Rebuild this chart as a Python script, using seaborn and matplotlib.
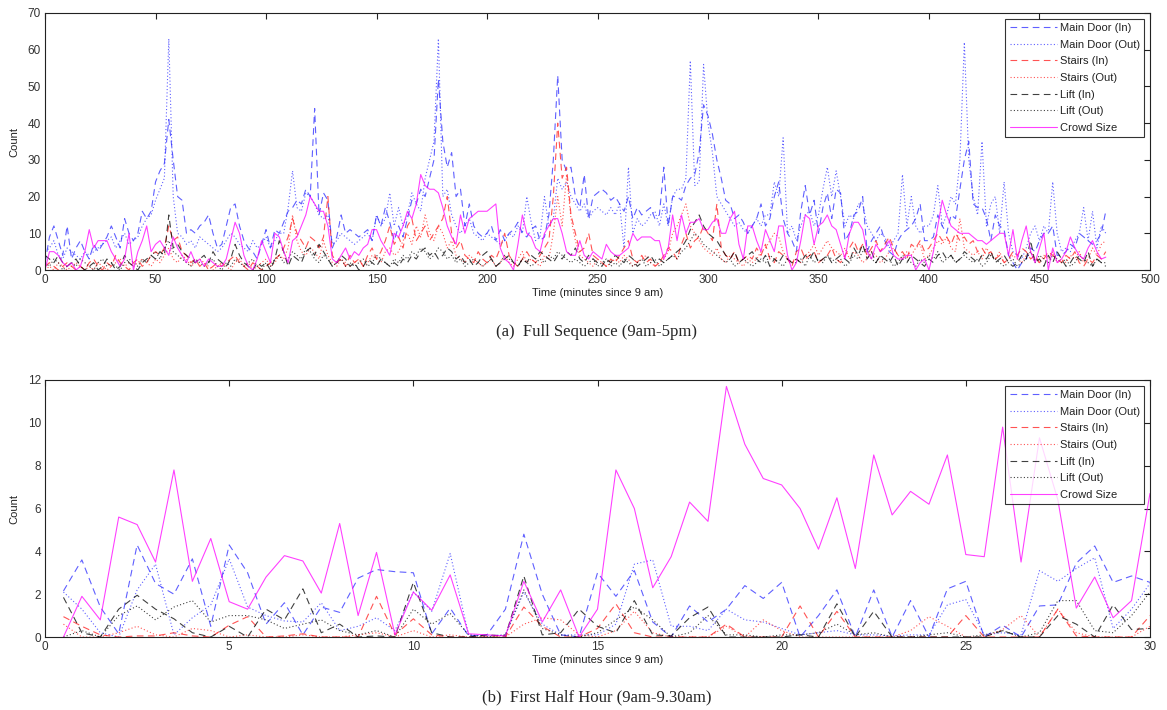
import numpy as np
import seaborn as sns
import matplotlib.pyplot as plt

# ---- full sequence, 2-minute bins (minutes since 9 am) ----
t_full = np.arange(0, 481, 2)

main_in_full = [
    2, 9, 12, 8, 4, 12, 3, 6, 8, 5,
    3, 7, 5, 7, 9, 12, 9, 6, 14, 10,
    8, 10, 16, 14, 16, 24, 27, 29, 41, 30,
    20, 19, 10, 11, 10, 12, 13, 15, 10, 6,
    7, 12, 17, 18, 12, 8, 6, 5, 3, 7,
    11, 6, 11, 10, 13, 16, 17, 19, 18, 22,
    20, 44, 15, 21, 19, 6, 9, 15, 10, 11,
    10, 9, 10, 11, 8, 15, 12, 17, 13, 8,
    12, 9, 14, 19, 18, 22, 20, 25, 30, 52,
    35, 28, 32, 20, 22, 12, 18, 12, 10, 9,
    10, 12, 8, 11, 8, 10, 11, 13, 10, 9,
    11, 12, 8, 9, 15, 30, 53, 30, 27, 28,
    20, 17, 26, 14, 20, 21, 22, 21, 19, 20,
    18, 16, 20, 14, 17, 15, 16, 17, 14, 15,
    28, 12, 20, 20, 19, 23, 25, 26, 32, 45,
    42, 37, 30, 25, 19, 18, 14, 15, 13, 10,
    12, 14, 18, 12, 14, 20, 24, 14, 10, 8,
    5, 16, 23, 15, 19, 10, 17, 21, 14, 22,
    21, 8, 10, 15, 16, 20, 5, 8, 10, 12,
    8, 5, 4, 8, 10, 11, 12, 14, 18, 8,
    8, 9, 15, 12, 10, 15, 14, 22, 30, 35,
    18, 17, 17, 14, 8, 15, 12, 11, 4, 2,
    0, 2, 3, 6, 5, 8, 10, 10, 12, 4,
    4, 5, 7, 6, 10, 9, 8, 7, 8, 10,
    16]

main_out_full = [
    5, 6, 8, 4, 3, 6, 5, 4, 3, 5,
    4, 5, 6, 7, 8, 9, 6, 8, 10, 7,
    8, 9, 12, 14, 15, 19, 22, 25, 63, 20,
    10, 9, 7, 8, 6, 9, 8, 7, 6, 5,
    6, 8, 10, 9, 7, 6, 5, 8, 6, 7,
    9, 6, 8, 10, 10, 17, 27, 17, 16, 21,
    20, 18, 15, 14, 15, 7, 8, 10, 9, 8,
    7, 8, 9, 10, 8, 15, 12, 14, 21, 12,
    17, 12, 15, 21, 18, 16, 25, 30, 35, 63,
    20, 22, 15, 12, 10, 12, 14, 10, 9, 8,
    10, 9, 8, 7, 8, 10, 9, 12, 10, 20,
    13, 8, 9, 20, 12, 14, 25, 22, 24, 20,
    18, 16, 18, 14, 16, 17, 16, 15, 17, 15,
    18, 6, 28, 10, 14, 12, 13, 15, 16, 12,
    18, 12, 20, 22, 22, 25, 57, 23, 24, 56,
    40, 32, 20, 18, 16, 14, 12, 13, 11, 10,
    12, 14, 12, 15, 15, 24, 20, 36, 10, 12,
    8, 12, 15, 16, 12, 15, 22, 28, 20, 27,
    20, 12, 15, 14, 18, 18, 12, 10, 8, 10,
    9, 6, 8, 10, 26, 12, 20, 12, 10, 12,
    12, 15, 23, 12, 15, 20, 18, 30, 62, 30,
    20, 15, 35, 12, 18, 20, 10, 24, 10, 5,
    4, 3, 6, 10, 12, 8, 12, 10, 24, 10,
    5, 6, 5, 8, 10, 17, 8, 16, 6, 12,
    10]

stairs_in_full = [
    1, 2, 1, 0, 1, 2, 1, 0, 1, 0,
    2, 3, 1, 0, 2, 1, 4, 2, 1, 0,
    2, 3, 1, 2, 4, 5, 4, 6, 12, 8,
    9, 5, 4, 2, 3, 1, 2, 0, 1, 2,
    1, 2, 3, 4, 2, 1, 0, 2, 1, 0,
    1, 2, 3, 4, 6, 9, 14, 10, 8, 6,
    9, 8, 6, 9, 20, 4, 2, 3, 1, 4,
    2, 3, 1, 4, 6, 3, 5, 8, 12, 7,
    9, 6, 12, 14, 8, 10, 12, 8, 10, 12,
    14, 20, 10, 6, 8, 4, 3, 2, 5, 3,
    2, 4, 3, 6, 10, 4, 2, 1, 3, 5,
    3, 2, 4, 6, 8, 20, 40, 25, 28, 15,
    10, 5, 6, 10, 4, 3, 2, 1, 3, 2,
    4, 6, 8, 3, 2, 4, 2, 3, 1, 2,
    4, 6, 5, 3, 7, 10, 6, 8, 9, 12,
    10, 8, 18, 6, 4, 3, 5, 2, 3, 4,
    3, 6, 4, 7, 3, 2, 5, 4, 3, 1,
    5, 6, 3, 4, 5, 2, 3, 4, 6, 3,
    2, 4, 6, 8, 5, 7, 4, 6, 8, 5,
    7, 9, 6, 4, 5, 3, 7, 6, 8, 5,
    6, 8, 10, 8, 9, 7, 10, 8, 9, 7,
    8, 5, 6, 4, 5, 3, 4, 2, 3, 5,
    4, 6, 5, 3, 4, 2, 3, 5, 4, 3,
    2, 4, 3, 5, 2, 1, 3, 2, 4, 3,
    5]

stairs_out_full = [
    0, 1, 0, 2, 1, 0, 1, 2, 1, 0,
    1, 0, 2, 1, 0, 1, 2, 3, 1, 2,
    1, 2, 3, 2, 1, 3, 2, 4, 6, 3,
    2, 4, 3, 1, 2, 3, 2, 1, 0, 1,
    2, 1, 0, 2, 3, 1, 2, 0, 1, 2,
    3, 1, 2, 4, 3, 6, 15, 8, 5, 4,
    6, 5, 3, 8, 4, 2, 1, 3, 2, 1,
    2, 3, 1, 2, 4, 3, 2, 5, 6, 4,
    5, 8, 10, 7, 12, 9, 15, 10, 8, 12,
    10, 6, 8, 4, 3, 2, 4, 3, 2, 1,
    2, 3, 1, 2, 4, 2, 1, 3, 5, 2,
    3, 2, 1, 4, 3, 10, 20, 12, 26, 14,
    8, 4, 3, 2, 1, 3, 2, 1, 2, 3,
    2, 4, 3, 1, 2, 3, 4, 2, 1, 2,
    3, 5, 10, 12, 15, 18, 12, 10, 8, 6,
    5, 4, 6, 3, 2, 4, 3, 2, 1, 3,
    2, 3, 5, 6, 8, 10, 9, 5, 3, 2,
    3, 2, 4, 5, 7, 4, 6, 8, 6, 5,
    4, 6, 3, 5, 4, 2, 3, 5, 4, 2,
    3, 5, 6, 4, 3, 5, 4, 6, 7, 3,
    4, 6, 8, 7, 9, 6, 5, 14, 6, 5,
    4, 5, 3, 6, 4, 3, 5, 2, 3, 4,
    3, 2, 4, 5, 3, 2, 4, 3, 5, 2,
    3, 2, 4, 3, 5, 2, 3, 6, 4, 7,
    8]

lift_in_full = [
    4, 3, 2, 4, 2, 1, 2, 3, 1, 0,
    1, 2, 0, 1, 3, 2, 0, 1, 4, 2,
    1, 0, 2, 3, 4, 3, 5, 4, 15, 6,
    7, 5, 4, 3, 2, 3, 4, 2, 5, 3,
    2, 1, 3, 7, 4, 2, 1, 0, 2, 1,
    2, 0, 3, 8, 5, 1, 4, 3, 2, 5,
    6, 4, 7, 5, 3, 1, 2, 4, 3, 1,
    2, 0, 1, 3, 2, 1, 3, 2, 1, 2,
    1, 3, 2, 4, 3, 5, 6, 4, 5, 3,
    4, 6, 5, 3, 4, 2, 3, 1, 2, 4,
    5, 3, 1, 2, 3, 4, 2, 1, 3, 2,
    4, 3, 5, 4, 3, 2, 4, 3, 5, 4,
    6, 3, 2, 4, 3, 2, 1, 3, 2, 4,
    3, 2, 4, 3, 1, 2, 3, 4, 2, 3,
    2, 3, 4, 5, 6, 8, 11, 13, 15, 12,
    10, 9, 8, 6, 4, 3, 5, 2, 3, 4,
    5, 3, 2, 4, 1, 3, 2, 4, 3, 2,
    3, 2, 4, 3, 5, 2, 3, 4, 2, 3,
    4, 3, 2, 6, 4, 7, 3, 5, 2, 4,
    3, 2, 4, 1, 3, 2, 4, 3, 2, 1,
    3, 2, 4, 5, 3, 4, 2, 3, 5, 4,
    3, 2, 4, 3, 5, 2, 3, 4, 2, 1,
    2, 4, 3, 8, 2, 3, 1, 4, 2, 5,
    3, 1, 2, 4, 3, 2, 5, 1, 3, 2,
    1]

lift_out_full = [
    2, 1, 3, 2, 0, 1, 2, 1, 3, 2,
    1, 0, 2, 3, 1, 2, 1, 0, 2, 3,
    2, 1, 3, 2, 4, 5, 3, 6, 8, 5,
    4, 3, 2, 1, 3, 2, 1, 2, 3, 1,
    0, 2, 1, 3, 2, 1, 2, 3, 1, 0,
    2, 1, 3, 4, 2, 3, 5, 4, 3, 6,
    5, 3, 2, 4, 3, 1, 2, 3, 1, 2,
    1, 2, 3, 1, 2, 4, 3, 2, 1, 3,
    2, 4, 3, 5, 4, 6, 5, 3, 4, 6,
    5, 3, 4, 2, 3, 1, 2, 3, 2, 1,
    2, 3, 1, 2, 4, 3, 2, 1, 3, 2,
    1, 2, 3, 2, 4, 3, 5, 4, 3, 2,
    3, 2, 1, 2, 3, 1, 2, 3, 1, 2,
    1, 3, 2, 1, 2, 3, 1, 2, 3, 1,
    2, 3, 4, 3, 5, 6, 8, 10, 9, 7,
    6, 5, 4, 3, 2, 3, 1, 2, 3, 2,
    1, 2, 3, 2, 4, 3, 2, 1, 3, 2,
    2, 3, 1, 4, 2, 3, 2, 4, 3, 2,
    3, 1, 2, 4, 3, 5, 6, 3, 2, 4,
    2, 3, 1, 2, 4, 3, 2, 1, 3, 2,
    4, 3, 5, 2, 3, 4, 2, 3, 4, 3,
    2, 3, 1, 2, 4, 3, 2, 1, 2, 3,
    1, 2, 3, 5, 2, 4, 3, 2, 4, 3,
    2, 3, 1, 2, 4, 3, 2, 1, 3, 2,
    2]

crowd_full = [
    0, 5, 5, 4, 2, 1, 2, 0, 1, 5,
    11, 6, 8, 8, 8, 5, 3, 1, 3, 10,
    0, 5, 8, 12, 5, 7, 8, 6, 4, 9,
    6, 4, 2, 5, 2, 3, 1, 3, 2, 1,
    1, 3, 8, 13, 10, 4, 1, 0, 3, 8,
    5, 2, 10, 9, 5, 2, 8, 9, 12, 15,
    20, 18, 16, 16, 12, 3, 2, 4, 6, 3,
    5, 4, 6, 7, 11, 11, 8, 6, 4, 10,
    9, 12, 16, 14, 18, 26, 23, 22, 22, 21,
    17, 12, 9, 7, 15, 10, 14, 15, 16, 16,
    16, 17, 18, 6, 3, 2, 0, 7, 15, 10,
    9, 6, 5, 10, 12, 14, 14, 10, 5, 4,
    4, 8, 4, 3, 5, 4, 3, 7, 5, 4,
    4, 5, 6, 10, 8, 9, 9, 9, 8, 8,
    3, 6, 15, 8, 15, 10, 13, 13, 14, 11,
    11, 13, 14, 10, 10, 14, 16, 7, 3, 12,
    12, 8, 5, 11, 8, 5, 12, 12, 4, 0,
    2, 8, 15, 14, 7, 12, 13, 15, 12, 11,
    7, 3, 10, 13, 13, 11, 5, 3, 7, 5,
    6, 8, 4, 3, 3, 4, 4, 0, 2, 3,
    0, 5, 12, 19, 15, 12, 11, 10, 10, 10,
    9, 8, 8, 7, 8, 9, 10, 10, 4, 11,
    3, 8, 12, 5, 2, 6, 10, 0, 6, 2,
    3, 5, 9, 6, 4, 3, 6, 8, 5, 3,
    3.5]

# ---- first half hour, 30-second bins ----
t_half = np.arange(0.5, 30.01, 0.5)

main_in_half = [
    2.15, 3.6, 1.4, 0.15, 4.3, 2.5, 2.0, 3.65, 0.5, 4.3,
    3.0, 0.6, 1.6, 0.1, 1.4, 1.15, 2.75, 3.15, 3.05, 3.0,
    0.15, 1.35, 0.05, 0.1, 1.3, 4.8, 2.0, 0.1, 0.0, 3.0,
    1.9, 3.1, 0.7, 0.0, 1.45, 0.7, 1.3, 2.4, 1.8, 2.55,
    0.0, 1.0, 2.2, 0.0, 2.2, 0.0, 1.7, 0.0, 2.25, 2.6,
    0.0, 0.55, 0.0, 1.45, 1.5, 3.45, 4.25, 2.55, 2.85, 2.55]

main_out_half = [
    2.1, 1.3, 0.2, 0.0, 2.2, 3.4, 0.1, 0.9, 1.5, 3.65,
    1.4, 1.0, 0.75, 0.7, 1.6, 0.3, 0.5, 0.9, 0.3, 2.1,
    1.2, 3.9, 0.1, 0.05, 0.1, 2.1, 0.6, 0.1, 0.1, 0.1,
    0.6, 3.4, 3.6, 0.5, 0.5, 0.3, 1.3, 0.8, 0.7, 0.4,
    0.1, 0.2, 0.3, 0.1, 0.1, 0.05, 0.1, 0.1, 1.5, 1.75,
    0.1, 0.2, 0.1, 3.1, 2.6, 3.2, 3.7, 0.4, 1.3, 2.5]

stairs_in_half = [
    0.95, 0.5, 0.1, 0.0, 0.05, 0.05, 0.2, 0.05, 0.0, 0.55,
    0.95, 0.0, 0.05, 0.15, 0.0, 0.0, 0.0, 1.9, 0.1, 0.85,
    0.1, 0.0, 0.0, 0.0, 0.0, 1.4, 0.5, 0.0, 0.0, 0.4,
    1.55, 0.2, 0.0, 0.0, 0.0, 0.0, 0.6, 0.0, 0.0, 0.0,
    1.45, 0.0, 1.2, 0.0, 0.0, 0.0, 0.0, 0.0, 0.0, 1.0,
    0.0, 0.0, 0.0, 0.0, 1.3, 0.05, 0.0, 0.0, 0.0, 1.0]

stairs_out_half = [
    0.6, 0.0, 0.0, 0.2, 0.5, 0.1, 0.0, 0.4, 0.3, 0.0,
    0.1, 0.0, 0.0, 0.1, 0.0, 0.0, 0.1, 0.2, 0.0, 0.3,
    0.0, 0.1, 0.0, 0.0, 0.0, 0.6, 0.9, 0.8, 0.1, 0.0,
    0.3, 1.2, 0.2, 0.0, 0.0, 0.0, 0.5, 0.0, 0.8, 0.3,
    0.0, 0.0, 0.0, 0.0, 0.0, 0.0, 0.3, 0.95, 0.5, 0.0,
    0.0, 0.35, 1.0, 0.0, 1.3, 0.2, 0.0, 0.0, 0.0, 0.5]

lift_in_half = [
    1.85, 0.2, 0.0, 1.3, 1.95, 1.3, 0.85, 0.2, 0.0, 0.5,
    0.0, 1.3, 0.8, 2.25, 0.2, 0.6, 0.0, 0.05, 0.0, 2.55,
    0.2, 0.0, 0.0, 0.1, 0.05, 2.85, 0.1, 0.2, 1.3, 0.5,
    0.2, 1.7, 0.1, 0.05, 0.9, 1.4, 0.0, 0.0, 0.0, 0.0,
    0.1, 0.0, 1.55, 0.0, 1.2, 0.0, 0.0, 0.0, 0.0, 0.0,
    0.0, 0.3, 0.0, 0.0, 1.0, 0.6, 0.0, 1.5, 0.35, 0.4]

lift_out_half = [
    0.0, 0.3, 0.0, 1.0, 1.45, 0.8, 1.4, 1.7, 0.7, 1.0,
    1.0, 0.8, 0.4, 0.6, 0.8, 0.3, 0.1, 0.3, 0.0, 1.3,
    0.6, 1.1, 0.1, 0.0, 0.1, 2.2, 0.4, 0.1, 0.0, 0.2,
    0.8, 1.4, 0.8, 0.0, 0.2, 1.0, 0.1, 0.1, 0.0, 0.1,
    0.1, 0.2, 0.6, 0.1, 0.2, 0.0, 0.0, 0.1, 0.2, 0.0,
    0.1, 0.3, 0.0, 0.2, 1.7, 1.7, 0.3, 0.2, 1.0, 2.1]

crowd_half = [
    0.0, 1.9, 0.8, 5.6, 5.25, 3.5, 7.8, 2.6, 4.6, 1.65,
    1.3, 2.8, 3.8, 3.55, 2.05, 5.3, 1.0, 3.95, 0.1, 2.1,
    1.25, 2.9, 0.15, 0.1, 0.05, 2.6, 0.7, 2.2, 0.0, 1.3,
    7.8, 6.0, 2.3, 3.75, 6.3, 5.4, 11.7, 9.0, 7.4, 7.1,
    6.0, 4.1, 6.5, 3.2, 8.5, 5.7, 6.8, 6.2, 8.5, 3.85,
    3.75, 9.8, 3.5, 9.3, 6.4, 1.35, 2.8, 0.9, 1.7, 6.7]

labels = ['Main Door (In)', 'Main Door (Out)', 'Stairs (In)', 'Stairs (Out)',
          'Lift (In)', 'Lift (Out)', 'Crowd Size']

dash = (0, (6, 4))
dot = (0, (1, 2))
styles = [('#2a2aff', dash), ('#2a2aff', dot), ('#ff1a1a', dash), ('#ff1a1a', dot),
          ('#000000', dash), ('#000000', dot), ('#ff00ff', '-')]

sns.set_style('white')
plt.rcParams['font.family'] = ['Liberation Sans', 'DejaVu Sans']

fig = plt.figure(figsize=(11.67, 7.10), dpi=100)
ax1 = fig.add_axes([0.0386, 0.6197, 0.9468, 0.362])
ax2 = fig.add_axes([0.0386, 0.1028, 0.9468, 0.362])


def draw_panel(ax, t, series, xmax, ymax, xstep, ystep):
    for vals, lab, (col, ls) in zip(series, labels, styles):
        sns.lineplot(x=t, y=vals, ax=ax, color=col, linestyle=ls,
                     linewidth=0.8, alpha=0.75, label=lab)
    ax.set_xlim(0, xmax)
    ax.set_ylim(0, ymax)
    ax.set_xticks(np.arange(0, xmax + 0.1, xstep))
    ax.set_yticks(np.arange(0, ymax + 0.1, ystep))
    ax.tick_params(direction='in', top=True, right=True, length=4, width=0.8,
                   labelsize=8.5, labelcolor='#333333', color='#222222', pad=3)
    for sp in ax.spines.values():
        sp.set_color('#222222')
        sp.set_linewidth(0.8)
    ax.set_xlabel('Time (minutes since 9 am)', fontsize=8, color='#222222', labelpad=1)
    ax.set_ylabel('Count', fontsize=8, color='#222222', labelpad=6)
    leg = ax.legend(loc='upper right', fontsize=8, frameon=True, fancybox=False,
                    handlelength=4.2, handletextpad=0.3, labelspacing=0.6,
                    borderpad=0.4, borderaxespad=0.5)
    leg.get_frame().set_edgecolor('black')
    leg.get_frame().set_linewidth(0.8)
    for txt in leg.get_texts():
        txt.set_color('#222222')


draw_panel(ax1, t_full, [main_in_full, main_out_full, stairs_in_full, stairs_out_full,
                         lift_in_full, lift_out_full, crowd_full], 500, 70, 50, 10)
draw_panel(ax2, t_half, [main_in_half, main_out_half, stairs_in_half, stairs_out_half,
                         lift_in_half, lift_out_half, crowd_half], 30, 12, 5, 2)

fig.text(0.5115, 0.533, '(a)  Full Sequence (9am-5pm)', ha='center', va='center',
         fontsize=12, family='Liberation Serif')
fig.text(0.5115, 0.018, '(b)  First Half Hour (9am-9.30am)', ha='center', va='center',
         fontsize=12, family='Liberation Serif')

fig.savefig('out.png', dpi=100)
